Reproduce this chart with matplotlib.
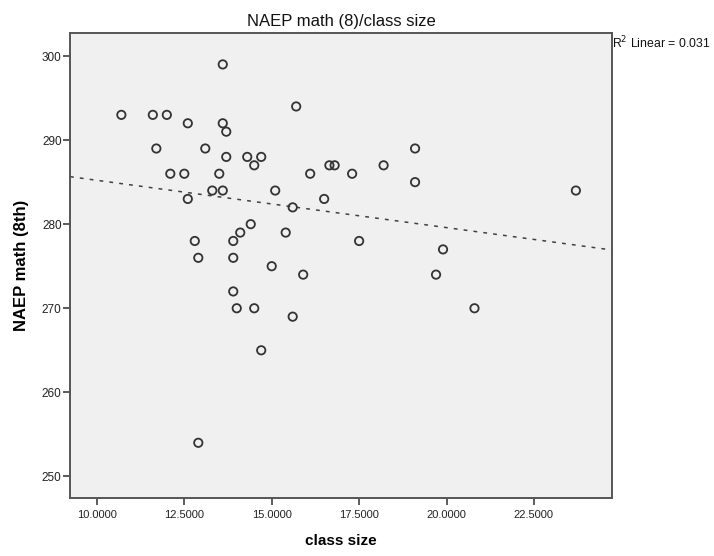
import numpy as np
import matplotlib
matplotlib.use("Agg")
import matplotlib.pyplot as plt

plt.rcParams['font.family'] = ['Liberation Sans', 'DejaVu Sans']

# class size vs NAEP math (8th)
class_size = [10.7, 11.6, 12.0, 12.6, 13.6, 13.7, 13.6, 11.7, 13.1, 13.7,
              14.3, 14.7, 14.5, 12.1, 12.5, 13.5, 13.3, 13.6, 15.1, 12.6,
              15.7, 16.65, 16.8, 16.1, 17.3, 18.2, 16.5, 15.6, 14.4, 14.1,
              15.4, 12.8, 13.9, 17.5, 12.9, 13.9, 13.9, 14.0, 14.5, 14.7,
              15.0, 15.6, 19.1, 19.1, 19.9, 15.9, 19.7, 23.7, 20.8, 12.9]
naep_math = [293, 293, 293, 292, 292, 291, 299, 289, 289, 288,
             288, 288, 287, 286, 286, 286, 284, 284, 284, 283,
             294, 287, 287, 286, 286, 287, 283, 282, 280, 279,
             279, 278, 278, 278, 276, 276, 272, 270, 270, 265,
             275, 269, 289, 285, 277, 274, 274, 284, 270, 254]

# fit line endpoints as drawn
fit_x = [9.23, 24.73]
fit_y = [285.65, 276.93]

xticks = [10.0, 12.5, 15.0, 17.5, 20.0, 22.5]
yticks = [250, 260, 270, 280, 290, 300]

fig = plt.figure(figsize=(7.14, 5.56), dpi=100)
ax = fig.add_axes([0.098, 0.1038, 0.759, 0.8363])
ax.set_facecolor('#f0f0f0')

ax.scatter(class_size, naep_math, s=36, facecolors='none',
           edgecolors='#333333', linewidths=1.3, zorder=3)
ax.plot(fit_x, fit_y, color='#404040', linestyle=(0, (2.5, 4)), linewidth=1.1, zorder=2)

ax.set_xlim(9.23, 24.73)
ax.set_ylim(247.4, 302.7)
ax.set_xticks(xticks)
ax.set_xticklabels([f"{v:.4f}" for v in xticks])
ax.set_yticks(yticks)
ax.tick_params(axis='both', labelsize=8, color='#404040', labelcolor='#222222',
               length=5, width=1.2)
ax.tick_params(axis='y', labelsize=8.5, pad=1)
for side in ['top', 'right', 'left', 'bottom']:
    ax.spines[side].set_color('#555555')
    ax.spines[side].set_linewidth(1.4)

ax.set_title('NAEP math (8)/class size', fontsize=12, pad=5, color='#111111')
ax.set_xlabel('class size', fontsize=11, fontweight='bold', labelpad=10)
ax.set_ylabel('NAEP math (8th)', fontsize=12, fontweight='bold', labelpad=9)

fig.text(0.857, 0.922, r'R$^2$ Linear = 0.031', fontsize=8.8, ha='left', va='center',
         color='#111111')

fig.savefig('out.png', dpi=100)
